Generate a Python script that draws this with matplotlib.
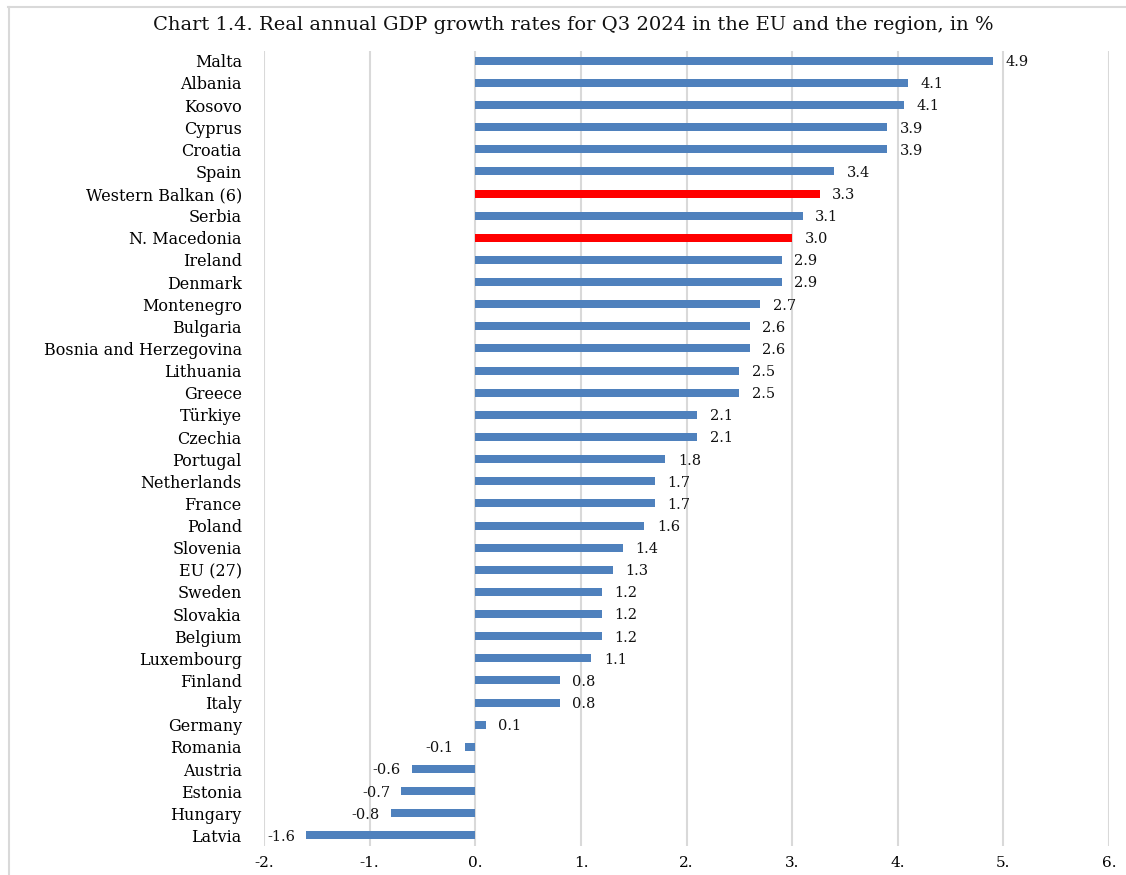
import numpy as np
import matplotlib
matplotlib.use("Agg")
import matplotlib.pyplot as plt
from matplotlib.lines import Line2D

countries = ["Malta", "Albania", "Kosovo", "Cyprus", "Croatia", "Spain",
             "Western Balkan (6)", "Serbia", "N. Macedonia", "Ireland", "Denmark",
             "Montenegro", "Bulgaria", "Bosnia and Herzegovina", "Lithuania",
             "Greece", "Türkiye", "Czechia", "Portugal", "Netherlands", "France",
             "Poland", "Slovenia", "EU (27)", "Sweden", "Slovakia", "Belgium",
             "Luxembourg", "Finland", "Italy", "Germany", "Romania", "Austria",
             "Estonia", "Hungary", "Latvia"]
growth = [4.9, 4.1, 4.06, 3.9, 3.9, 3.4, 3.26, 3.1, 3.0, 2.9, 2.9, 2.7, 2.6, 2.6,
          2.5, 2.5, 2.1, 2.1, 1.8, 1.7, 1.7, 1.6, 1.4, 1.3, 1.2, 1.2, 1.2, 1.1,
          0.8, 0.8, 0.1, -0.1, -0.6, -0.7, -0.8, -1.6]
highlight = ["Western Balkan (6)", "N. Macedonia"]
xticks = [-2, -1, 0, 1, 2, 3, 4, 5, 6]

plt.rcParams['font.family'] = ['DejaVu Serif']

fig = plt.figure(figsize=(11.26, 8.75), dpi=100)
ax = fig.add_axes([0.2345, 0.0331, 0.7504, 0.9086])

y = np.arange(len(countries))
colors = ["#FF0000" if c in highlight else "#4F81BD" for c in countries]
ax.barh(y, growth, height=0.36, color=colors, zorder=3)

for yi, v in zip(y, growth):
    if v >= 0:
        ax.annotate(f"{v:.1f}", (v, yi), xytext=(9, -1), textcoords="offset points",
                    ha="left", va="center", fontsize=10.5, color="#111111")
    else:
        ax.annotate(f"{v:.1f}", (v, yi), xytext=(-8, -1), textcoords="offset points",
                    ha="right", va="center", fontsize=10.5, color="#111111")

ax.set_xlim(-2, 6)
ax.set_ylim(len(countries) - 0.52, -0.44)
ax.set_xticks(xticks)
ax.set_xticklabels([f"{t}." for t in xticks], fontsize=11)
ax.set_yticks(y)
ax.set_yticklabels(countries, fontsize=11.5)
ax.tick_params(axis="y", length=0, pad=16)
ax.tick_params(axis="x", length=0, pad=7)
ax.grid(axis="x", color="#D9D9D9", linewidth=1.5, zorder=0)
for s in ax.spines.values():
    s.set_visible(False)

fig.text(0.509, 0.971, "Chart 1.4. Real annual GDP growth rates for Q3 2024 in the EU and the region, in %",
         ha="center", va="center", fontsize=14, color="#111111")

# outer frame (top and left edges visible)
fig.add_artist(Line2D([8 / 1126, 1.0], [1 - 6.5 / 875, 1 - 6.5 / 875], color="#D9D9D9", lw=1.5))
fig.add_artist(Line2D([8.5 / 1126, 8.5 / 1126], [0, 1 - 6.5 / 875], color="#D9D9D9", lw=1.5))

fig.savefig("out.png", dpi=100)
